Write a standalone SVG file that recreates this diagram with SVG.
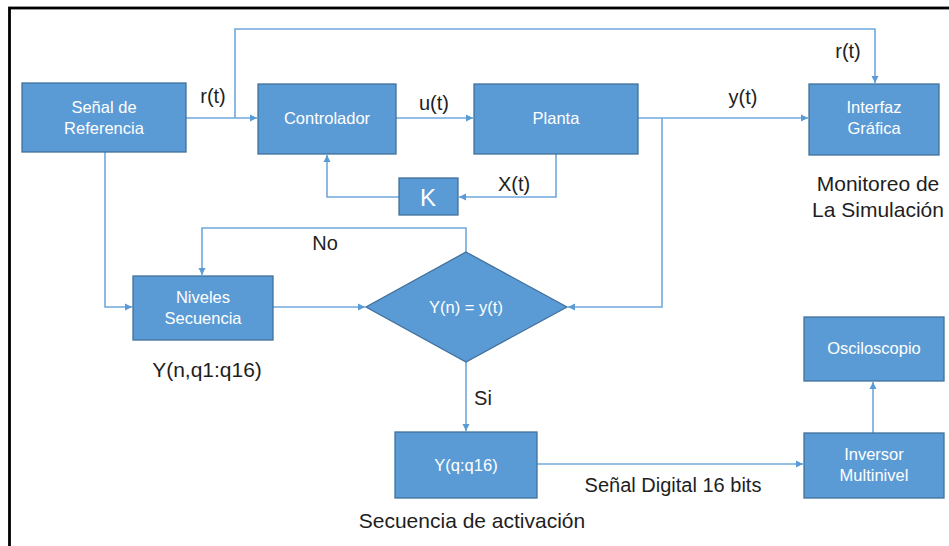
<svg xmlns="http://www.w3.org/2000/svg" width="949" height="546" viewBox="0 0 949 546">
<style>
.box{fill:#5B9BD5;stroke:#41719C;stroke-width:1.3}
.bt{font-family:"Liberation Sans",Arial,sans-serif;font-size:16.5px;fill:#FFFFFF;text-anchor:middle}
.lb{font-family:"Liberation Sans",Arial,sans-serif;font-size:20px;fill:#1E1E1E;text-anchor:middle}
.cn{fill:none;stroke:#6FA8DC;stroke-width:1.6}
</style>
<defs>
<marker id="ah" markerWidth="8" markerHeight="8" refX="7" refY="4" orient="auto" markerUnits="userSpaceOnUse">
<path d="M0,0.5 L7,4 L0,7.5 Z" fill="#5B9BD5"/>
</marker>
</defs>
<rect x="0" y="0" width="949" height="546" fill="#FFFFFF"/>
<rect x="9.5" y="8" width="960" height="560" fill="none" stroke="#000000" stroke-width="2.8"/>

<g id="connectors">
<path class="cn" d="M186,118 L257,118" marker-end="url(#ah)"/>
<path class="cn" d="M235,118 L235,29 L875,29 L875,83" marker-end="url(#ah)"/>
<path class="cn" d="M396,118 L473,118" marker-end="url(#ah)"/>
<path class="cn" d="M638,118 L808,118" marker-end="url(#ah)"/>
<path class="cn" d="M556,154 L556,197 L459,197" marker-end="url(#ah)"/>
<path class="cn" d="M399,197 L327,197 L327,155" marker-end="url(#ah)"/>
<path class="cn" d="M105,152 L105,307 L132,307" marker-end="url(#ah)"/>
<path class="cn" d="M273,307 L365,307" marker-end="url(#ah)"/>
<path class="cn" d="M662,118 L662,307 L568,307" marker-end="url(#ah)"/>
<path class="cn" d="M466,252 L466,228 L202,228 L202,275" marker-end="url(#ah)"/>
<path class="cn" d="M466,362 L466,431" marker-end="url(#ah)"/>
<path class="cn" d="M537,464 L803,464" marker-end="url(#ah)"/>
<path class="cn" d="M873,433 L873,382" marker-end="url(#ah)"/>
</g>

<g id="senal">
<rect class="box" x="22" y="83" width="164" height="69"/>
<text class="bt" x="104" y="113">Señal de</text>
<text class="bt" x="104" y="134">Referencia</text>
</g>
<g id="controlador">
<rect class="box" x="258" y="84" width="138" height="70"/>
<text class="bt" x="327" y="124">Controlador</text>
</g>
<g id="planta">
<rect class="box" x="474" y="84" width="164" height="70"/>
<text class="bt" x="556" y="124">Planta</text>
</g>
<g id="interfaz">
<rect class="box" x="809" y="84" width="130" height="71"/>
<text class="bt" x="874" y="113">Interfaz</text>
<text class="bt" x="874" y="134">Gráfica</text>
</g>
<g id="k">
<rect class="box" x="399" y="178" width="59" height="37"/>
<text class="bt" x="428" y="206" style="font-size:24px">K</text>
</g>
<g id="niveles">
<rect class="box" x="133" y="276" width="140" height="64"/>
<text class="bt" x="203" y="303">Niveles</text>
<text class="bt" x="203" y="324">Secuencia</text>
</g>
<g id="decision">
<polygon class="box" points="466,252 567,307 466,362 366,307"/>
<text class="bt" x="466" y="313">Y(n) = y(t)</text>
</g>
<g id="yq">
<rect class="box" x="395" y="432" width="142" height="66"/>
<text class="bt" x="466" y="471">Y(q:q16)</text>
</g>
<g id="osciloscopio">
<rect class="box" x="804" y="317" width="140" height="64"/>
<text class="bt" x="874" y="354">Osciloscopio</text>
</g>
<g id="inversor">
<rect class="box" x="804" y="433" width="140" height="65"/>
<text class="bt" x="874" y="460">Inversor</text>
<text class="bt" x="874" y="481">Multinivel</text>
</g>

<g id="labels">
<text class="lb" x="213" y="103">r(t)</text>
<text class="lb" x="848" y="58">r(t)</text>
<text class="lb" x="434" y="110">u(t)</text>
<text class="lb" x="743" y="104">y(t)</text>
<text class="lb" x="514" y="191">X(t)</text>
<text class="lb" x="878" y="191" style="font-size:21px">Monitoreo de</text>
<text class="lb" x="878" y="217" style="font-size:21px">La Simulación</text>
<text class="lb" x="325" y="250">No</text>
<text class="lb" x="483" y="405">Si</text>
<text class="lb" x="207" y="377" style="font-size:21px">Y(n,q1:q16)</text>
<text class="lb" x="472" y="528" style="font-size:21px">Secuencia de activación</text>
<text class="lb" x="673" y="492">Señal Digital 16 bits</text>
</g>
</svg>
